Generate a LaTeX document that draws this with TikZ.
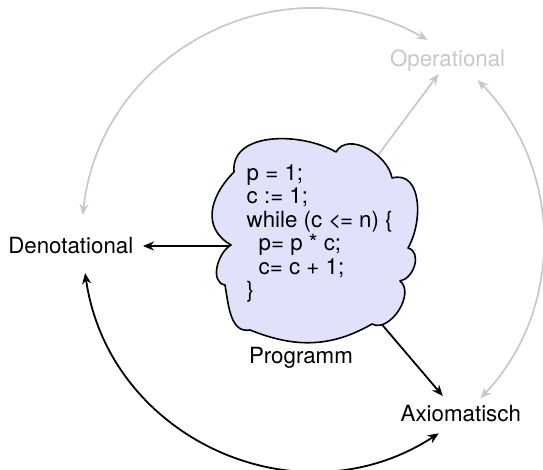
\documentclass[tikz,border=0pt]{standalone}
\usepackage{fontspec}
\setmainfont{TeX Gyre Heros}
\usetikzlibrary{arrows.meta,backgrounds}
\definecolor{lgray}{RGB}{200,200,200}
\definecolor{cloudfill}{RGB}{224,226,252}
\begin{document}
\begin{tikzpicture}[x=1pt,y=1pt,
  lab/.style={inner sep=0pt, outer sep=0pt, font=\fontsize{22.3}{26}\selectfont},
  onetip/.style={-{Stealth[length=11pt,width=9pt,inset=3.5pt]}},
  twoway/.style={{Stealth[length=11pt,width=9pt,inset=3.5pt]}-{Stealth[length=11pt,width=9pt,inset=3.5pt]}},
  blk/.style={draw=black, line width=1.8pt},
  gry/.style={draw=lgray, line width=1.7pt},
  cloudline/.style={draw=black, line width=1.6pt, fill=cloudfill, line join=round}]
\useasboundingbox (0,0) rectangle (543,470);
% cloud outline
\coordinate (cl) at (312.5,227);
\coordinate (n1) at (231,225);
\coordinate (n2) at (234,298);
\coordinate (n3) at (336,318);
\coordinate (n4) at (392,292);
\coordinate (n5) at (408,222);
\coordinate (n6) at (400,189);
\coordinate (n7) at (372,146);
\coordinate (n8) at (250,140);
\coordinate (n9) at (225,185);
\path[cloudline] (n1) to[out=150,in=225,looseness=1.2] (n2)
  to[out=95,in=150] (n3)
  to[out=60,in=100] (n4)
  to[out=15,in=60,looseness=1.1] (n5)
  to[out=-15,in=10,looseness=1.1] (n6)
  to[out=-38,in=-28] (n7)
  to[out=-150,in=-22] (n8)
  to[out=190,in=-80] (n9)
  to[out=170,in=210] (n1) -- cycle;
\node[lab, anchor=north west, align=left, font=\fontsize{22.3}{23.5}\selectfont] (code) at (246.7,305.8)
  {p = 1;\\ c := 1;\\ while (c <\kern-1.5pt= n) \{\\ \hspace*{12pt}p= p * c;\\ \hspace*{12pt}c= c + 1;\\ \}};
\node[lab, anchor=base west] (den) at (8.3,216.7) {Denotational};
\node[lab, anchor=base west, text=lgray] (op) at (390,403.3) {Operational};
\node[lab, anchor=base west] (axi) at (400.7,48.3) {Axiomatisch};
\node[lab, anchor=base west] (prog) at (249,106.7) {Programm};
\coordinate (dtip) at ([shift={(9.7pt,7.3pt)}]den.base east);
\begin{scope}[on background layer]
\draw[blk,onetip] (cl |- dtip) -- (dtip);
\draw[blk,onetip] (cl) -- ([shift={(-18pt,25.7pt)}]axi.base);
\draw[gry,onetip] (cl) -- ([shift={(-9pt,-7.3pt)}]op.base);
\end{scope}
\draw[gry,twoway] ([shift={(12pt,38.3pt)}]den.base) to[out=83.8,in=150.3,looseness=1.10] ([shift={(-20pt,26.7pt)}]op.base);
\draw[gry,twoway] ([shift={(30pt,-13.3pt)}]op.base) to[out=-45.8,in=46.7,looseness=0.99] ([shift={(19.7pt,23.4pt)}]axi.base);
\draw[blk,twoway] ([shift={(14.3pt,-19.7pt)}]den.base) to[out=-81.8,in=213.1,looseness=1.106] ([shift={(-22pt,-11.6pt)}]axi.base);
\end{tikzpicture}
\end{document}
